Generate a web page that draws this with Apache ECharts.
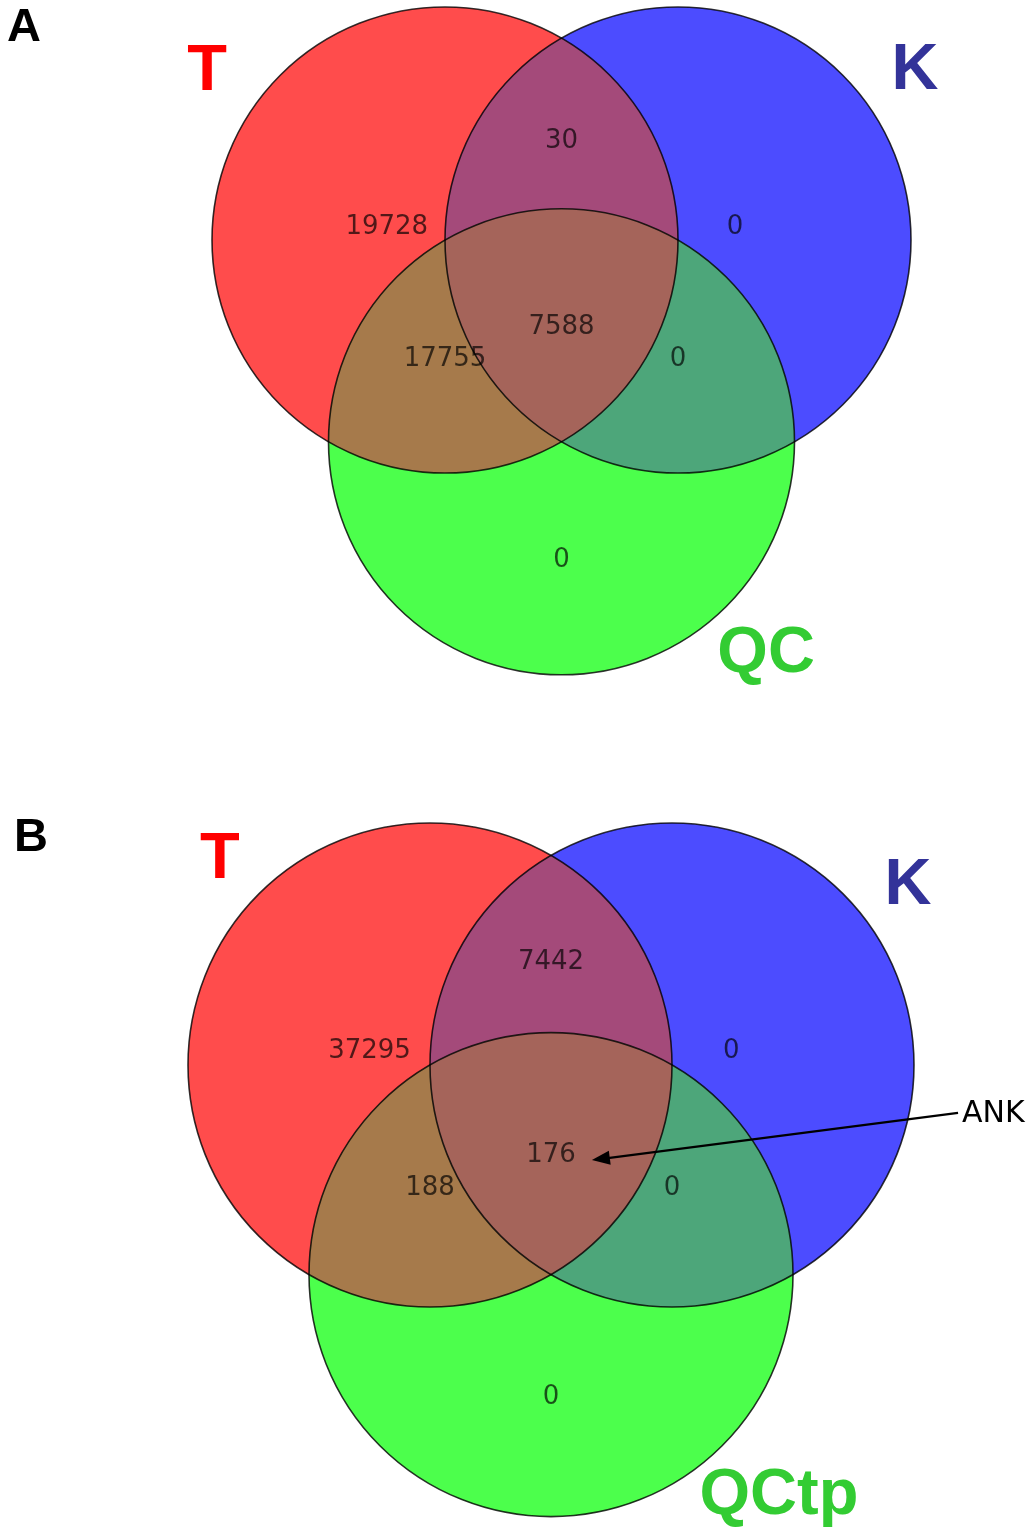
<!DOCTYPE html>
<html><head><meta charset="utf-8">
<script src="https://cdn.jsdelivr.net/npm/echarts/dist/echarts.min.js"></script>
<style>html,body{margin:0;padding:0;background:#fff}#c{width:1030px;height:1529px}</style>
</head><body><div id="c"></div>
<script>
// ---------------- data ----------------
const panelLetters = ['A', 'B'];
const setNamesA = ['T', 'K', 'QC'];
const setNamesB = ['T', 'K', 'QCtp'];
// region order: T only, T∩K, K only, T∩QC, T∩K∩QC, K∩QC, QC only
const regionNames = ['T only', 'T∩K', 'K only', 'T∩QC', 'T∩K∩QC', 'K∩QC', 'QC only'];
const countsA = [19728, 30, 0, 17755, 7588, 0, 0];
const countsB = [37295, 7442, 0, 188, 176, 0, 0];
const annotationText = 'ANK';

// ---------------- layout / style ----------------
const setColors = ['#ff4c4c', '#4c4cff', '#4cff4c'];
const pairColors = ['#a44a7a', '#a67a4b', '#4da67a']; // T∩K, T∩QC, K∩QC
const pairIdx = [[0, 1], [0, 2], [1, 2]];
const tripleColor = '#a5645a';
const setLabelColors = ['#ff0000', '#333399', '#33cc33'];
const centers = [[-0.5, 0], [0.5, 0], [0, Math.sqrt(3) / 2]];   // in units of radius
const regionLabelPos = [[-0.75, -0.055], [0, -0.425], [0.745, -0.055], [-0.5, 0.511], [0, 0.373], [0.5, 0.511], [0, 1.373]];
const setLabelPosA = [[-1.521, -0.72], [1.517, -0.724], [0.878, 1.776]];
const setLabelPosB = [[-1.368, -0.845], [1.475, -0.738], [0.942, 1.781]];
const annotTip = [0.169, 0.393];
const annotStart = [1.682, 0.198];

const grids = [
  { left: 212, top: 7, width: 699, height: 667.8 },
  { left: 188, top: 823, width: 726, height: 693.6 }
];

function inter(C, R, i, j) {
  const a = C[i], b = C[j];
  const dx = b[0] - a[0], dy = b[1] - a[1];
  const d = Math.hypot(dx, dy);
  const h = Math.sqrt(Math.max(R * R - d * d / 4, 0));
  const mx = (a[0] + b[0]) / 2, my = (a[1] + b[1]) / 2;
  const px = -dy / d, py = dx / d;
  return [[mx + h * px, my + h * py], [mx - h * px, my - h * py]];
}
function arc(c, R, p, q, n) {
  const a1 = Math.atan2(p[1] - c[1], p[0] - c[0]);
  const a2 = Math.atan2(q[1] - c[1], q[0] - c[0]);
  let d = a2 - a1;
  while (d > Math.PI) d -= 2 * Math.PI;
  while (d < -Math.PI) d += 2 * Math.PI;
  const pts = [];
  for (let k = 0; k <= n; k++) {
    const a = a1 + d * k / n;
    pts.push([c[0] + R * Math.cos(a), c[1] + R * Math.sin(a)]);
  }
  return pts;
}
function geom(api) {
  const C = centers.map(c => api.coord(c));
  const R = api.size([1, 1])[0];
  return { C, R };
}
function dist(p, q) { return Math.hypot(p[0] - q[0], p[1] - q[1]); }

const series = [];
const xAxes = [], yAxes = [];
grids.forEach((g, gi) => {
  xAxes.push({ gridIndex: gi, type: 'value', min: -1.5, max: 1.5, show: false });
  yAxes.push({ gridIndex: gi, type: 'value', min: -1, max: 1 + Math.sqrt(3) / 2, inverse: true, show: false });
  const counts = gi === 0 ? countsA : countsB;
  const names = gi === 0 ? setNamesA : setNamesB;
  const setPos = gi === 0 ? setLabelPosA : setLabelPosB;
  const base = { xAxisIndex: gi, yAxisIndex: gi, silent: true, animation: false };
  // single-set discs
  series.push(Object.assign({}, base, {
    type: 'custom', z: 1,
    data: names.map((n, i) => [i]),
    renderItem: (params, api) => {
      const { C, R } = geom(api);
      const i = api.value(0);
      return { type: 'circle', shape: { cx: C[i][0], cy: C[i][1], r: R }, style: { fill: setColors[i] } };
    }
  }));
  // pair lenses
  series.push(Object.assign({}, base, {
    type: 'custom', z: 2,
    data: pairIdx.map((p, i) => [i]),
    renderItem: (params, api) => {
      const { C, R } = geom(api);
      const k = api.value(0);
      const [i, j] = pairIdx[k];
      const [P, Q] = inter(C, R, i, j);
      const pts = arc(C[i], R, P, Q, 80).concat(arc(C[j], R, Q, P, 80));
      return { type: 'polygon', shape: { points: pts }, style: { fill: pairColors[k] } };
    }
  }));
  // triple region
  series.push(Object.assign({}, base, {
    type: 'custom', z: 3,
    data: [[0]],
    renderItem: (params, api) => {
      const { C, R } = geom(api);
      const pick = (i, j, o) => inter(C, R, i, j).filter(p => dist(p, C[o]) < R)[0];
      const vTK = pick(0, 1, 2), vTQ = pick(0, 2, 1), vKQ = pick(1, 2, 0);
      const pts = arc(C[0], R, vTK, vTQ, 60).concat(arc(C[2], R, vTQ, vKQ, 60), arc(C[1], R, vKQ, vTK, 60));
      return { type: 'polygon', shape: { points: pts }, style: { fill: tripleColor } };
    }
  }));
  // outlines
  series.push(Object.assign({}, base, {
    type: 'custom', z: 4,
    data: names.map((n, i) => [i]),
    renderItem: (params, api) => {
      const { C, R } = geom(api);
      const i = api.value(0);
      return { type: 'circle', shape: { cx: C[i][0], cy: C[i][1], r: R },
        style: { fill: null, stroke: 'rgba(0,0,0,0.8)', lineWidth: 1.6 } };
    }
  }));
  // region counts
  series.push(Object.assign({}, base, {
    type: 'scatter', z: 5, clip: false, symbolSize: 1, itemStyle: { color: 'rgba(0,0,0,0)', opacity: 1 },
    data: regionLabelPos.map((p, i) => ({ name: regionNames[i], value: [p[0], p[1], counts[i]] })),
    label: { show: true, position: 'inside', formatter: p => String(p.value[2]),
      fontFamily: 'DejaVu Sans', fontSize: 26, color: 'rgba(0,0,0,0.68)' }
  }));
  // set names
  series.push(Object.assign({}, base, {
    type: 'scatter', z: 6, clip: false, symbolSize: 1, itemStyle: { color: 'rgba(0,0,0,0)', opacity: 1 },
    data: setPos.map((p, i) => ({ name: names[i], value: p,
      label: { color: setLabelColors[i] } })),
    label: { show: true, position: 'inside', formatter: p => p.name,
      fontFamily: 'Liberation Sans, Arial, sans-serif', fontWeight: 'bold', fontSize: 65 }
  }));
});

// annotation (panel B)
series.push({
  type: 'custom', xAxisIndex: 1, yAxisIndex: 1, z: 7, silent: true, animation: false,
  data: [[annotStart[0], annotStart[1], annotTip[0], annotTip[1]]],
  renderItem: (params, api) => {
    const s = api.coord([api.value(0), api.value(1)]);
    const t = api.coord([api.value(2), api.value(3)]);
    const ang = Math.atan2(t[1] - s[1], t[0] - s[0]);
    const L = 18, W = 7;
    const bx = t[0] - L * Math.cos(ang), by = t[1] - L * Math.sin(ang);
    const nx = -Math.sin(ang), ny = Math.cos(ang);
    return { type: 'group', children: [
      { type: 'line', shape: { x1: s[0], y1: s[1], x2: bx + 4 * Math.cos(ang), y2: by + 4 * Math.sin(ang) },
        style: { stroke: '#000', lineWidth: 2.2 } },
      { type: 'polygon', shape: { points: [[t[0], t[1]], [bx + W * nx, by + W * ny], [bx - W * nx, by - W * ny]] },
        style: { fill: '#000' } },
      { type: 'text', x: s[0] + 4, y: s[1] + 1,
        style: { text: annotationText, fill: '#000', font: '30px "DejaVu Sans"', verticalAlign: 'middle', align: 'left' } }
    ] };
  }
});

const chart = echarts.init(document.getElementById('c'), null, { renderer: 'canvas' });
chart.setOption({
  backgroundColor: '#fff',
  animation: false,
  grid: grids,
  xAxis: xAxes,
  yAxis: yAxes,
  graphic: [
    { type: 'text', left: 7, top: 5, style: { text: panelLetters[0], font: 'bold 47px "Liberation Sans", Arial', fill: '#000' } },
    { type: 'text', left: 14, top: 815, style: { text: panelLetters[1], font: 'bold 47px "Liberation Sans", Arial', fill: '#000' } }
  ],
  series: series
});
</script></body></html>
